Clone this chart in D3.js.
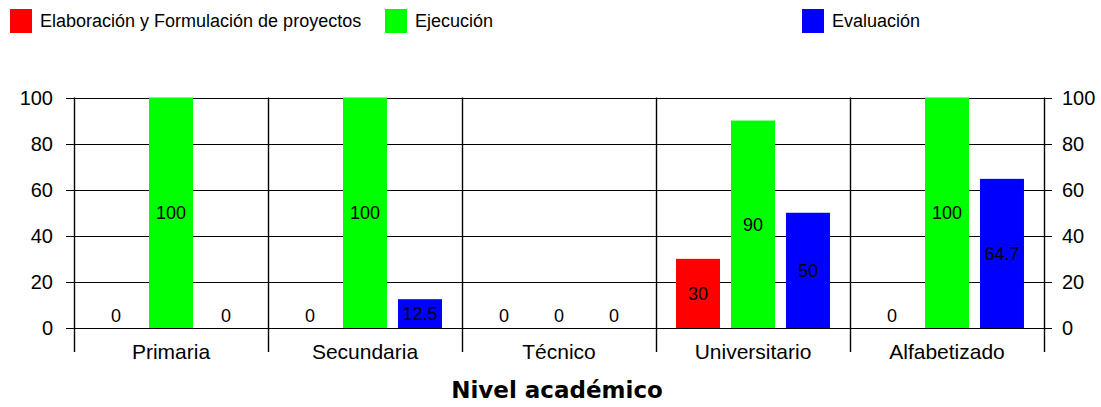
<!DOCTYPE html>
<html><head><meta charset="utf-8">
<script src="https://cdn.jsdelivr.net/npm/d3@7"></script>
<style>body{margin:0;background:#fff}svg{display:block;font-family:"Liberation Sans",Arial,sans-serif}</style>
</head><body>
<svg id="c" width="1101" height="407"></svg>
<script>
const categories = ["Primaria","Secundaria","Técnico","Universitario","Alfabetizado"];
const seriesNames = ["Elaboración y Formulación de proyectos","Ejecución","Evaluación"];
const seriesColors = ["#ff0000","#00ff00","#0000ff"];
const elaboracion = [0,0,0,30,0];
const ejecucion = [100,100,0,90,100];
const evaluacion = [0,12.5,0,50,64.7];
const valueLabels = [["0","0","0","30","0"],["100","100","0","90","100"],["0","12.5","0","50","64.7"]];
const yTicks = [0,20,40,60,80,100];
const xTitle = "Nivel académico";

const series = [elaboracion, ejecucion, evaluacion];
const svg = d3.select("#c");
const L = 74, R = 1044, T = 97.5, B = 328;
const x = d3.scaleBand().domain(categories).range([L,R]).paddingInner(0).paddingOuter(0);
const xs = d3.scaleBand().domain([0,1,2]).range([0,x.bandwidth()]).paddingInner(0.2).paddingOuter(0.364);
const y = d3.scaleLinear().domain([0,100]).range([B,T]);

// gridlines
svg.append("g").selectAll("line").data(yTicks).join("line")
  .attr("x1",L-8).attr("x2",R+8).attr("y1",d=>Math.round(y(d))+0.5).attr("y2",d=>Math.round(y(d))+0.5)
  .attr("stroke","#000").attr("stroke-width",1.2);
// category dividers
const bounds = categories.map(c=>x(c)).concat([R]);
svg.append("g").selectAll("line").data(bounds).join("line")
  .attr("x1",d=>Math.round(d)+0.5).attr("x2",d=>Math.round(d)+0.5).attr("y1",T).attr("y2",352)
  .attr("stroke","#000").attr("stroke-width",1.4);

// bars
series.forEach((s,si)=>{
  const g = svg.append("g");
  g.selectAll("rect").data(s.map((v,i)=>({v,i}))).join("rect")
    .filter(d=>d.v>0)
    .attr("x",d=>x(categories[d.i])+xs(si)).attr("width",xs.bandwidth())
    .attr("y",d=>y(d.v)).attr("height",d=>B-y(d.v))
    .attr("fill",seriesColors[si]);
  g.selectAll("text").data(s.map((v,i)=>({v,i}))).join("text")
    .attr("x",d=>x(categories[d.i])+xs(si)+xs.bandwidth()/2)
    .attr("y",d=>d.v>0 ? (y(d.v)+B)/2 : B-12)
    .attr("dy","0.35em").attr("text-anchor","middle")
    .attr("font-size",18).attr("fill","#000")
    .text(d=>valueLabels[si][d.i]);
});

// y axes labels
const yl = svg.append("g").attr("font-size",20).attr("fill","#000");
yl.selectAll("text.l").data(yTicks).join("text").attr("class","l")
  .attr("x",L-21).attr("y",d=>y(d)).attr("dy","0.35em").attr("text-anchor","end").text(d=>d);
yl.selectAll("text.r").data(yTicks).join("text").attr("class","r")
  .attr("x",R+18).attr("y",d=>y(d)).attr("dy","0.35em").attr("text-anchor","start").text(d=>d);

// category labels
svg.append("g").selectAll("text").data(categories).join("text")
  .attr("x",d=>x(d)+x.bandwidth()/2).attr("y",352).attr("dy","0.35em")
  .attr("text-anchor","middle").attr("font-size",21).text(d=>d);

// x title
svg.append("text").attr("x",(L+R)/2-2).attr("y",390).attr("dy","0.35em")
  .attr("text-anchor","middle").attr("font-size",23).attr("font-weight","bold")
  .attr("font-family","'DejaVu Sans',sans-serif").text(xTitle);

// legend
const legX = [10,385,802];
const lg = svg.append("g");
seriesNames.forEach((n,i)=>{
  lg.append("rect").attr("x",legX[i]).attr("y",9).attr("width",22).attr("height",24).attr("fill",seriesColors[i]);
  lg.append("text").attr("x",legX[i]+30).attr("y",20.5).attr("dy","0.35em").attr("font-size",18).text(n);
});
</script>
</body></html>
